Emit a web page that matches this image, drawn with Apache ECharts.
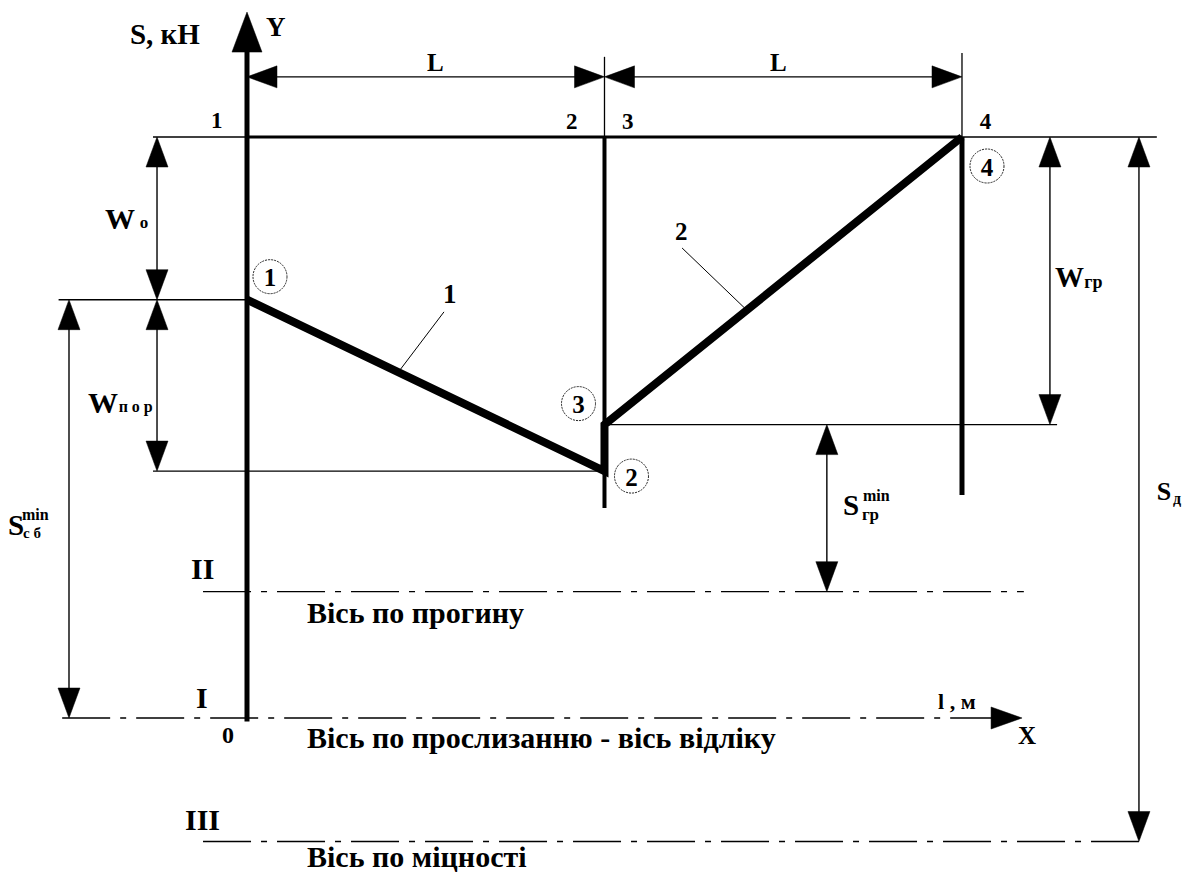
<!DOCTYPE html>
<html><head><meta charset="utf-8">
<script src="https://cdn.jsdelivr.net/npm/echarts@6/dist/echarts.min.js"></script>
<style>html,body{margin:0;padding:0;background:#fff}#c{width:1189px;height:875px}</style>
</head><body><div id="c"></div>
<script>
// ---------------- data ----------------
const pointNames = ['1', '2', '3', '4'];
const pointL = [0, 100, 100, 200];          // l, м   (L = 100)
const pointS = [14.4, 8.5, 10.1, 20];       // S, кН
const axisNames  = ['I', 'II', 'III'];
const axisLevels = [0, 4.35, -4.25];        // S levels of axes I, II, III
const axisTitles = ['Вісь по прослизанню - вісь відліку', 'Вісь по прогину', 'Вісь по міцності'];
const spanLabels = ['L', 'L'];

// ---------------- layout (data units) ----------------
const X_MIN = -69.09, X_MAX = 263.5, Y_MIN = -5.404, Y_MAX = 24.716;
const S_TOP = pointS[3];
const DIM_L_Y = 22.07;
const DIM_IN_X = -25.17, DIM_OUT_X = -49.79, DIM_WGR_X = 224.6, DIM_SD_X = 249.5, DIM_SGR_X = 162.2;
const FONT = '"Liberation Serif", "Times New Roman", serif';

// segments: [x1,y1,x2,y2, width, arrowStart, arrowEnd, dashed, arrowLen, arrowHalfW]
const segs = [
  // Y axis
  [0, axisLevels[0] - 0.12, 0, 24.30, 5, 0, 1, 0, 40, 15],
  // top line
  [pointL[0], S_TOP, pointL[3], S_TOP, 3, 0, 0, 0],
  [-26.3, S_TOP, pointL[0], S_TOP, 1.4, 0, 0, 0],
  [pointL[3], S_TOP, 254.5, S_TOP, 1.4, 0, 0, 0],
  // drum verticals
  [pointL[1], S_TOP, pointL[1], 7.23, 4, 0, 0, 0],
  [pointL[3], S_TOP, pointL[3], 7.68, 5, 0, 0, 0],
  // extension lines for L
  [pointL[1], S_TOP, pointL[1], 22.76, 1.3, 0, 0, 0],
  [pointL[3], S_TOP, pointL[3], 22.89, 1.3, 0, 0, 0],
  // reference horizontals
  [-52.7, pointS[0], pointL[0], pointS[0], 1.4, 0, 0, 0],
  [-26.3, pointS[1], pointL[1], pointS[1], 1.4, 0, 0, 0],
  [pointL[2], pointS[2], 226.6, pointS[2], 1.4, 0, 0, 0],
  // dimension lines
  [pointL[0], DIM_L_Y, pointL[1], DIM_L_Y, 1.4, 1, 1, 0],
  [pointL[1], DIM_L_Y, pointL[3], DIM_L_Y, 1.4, 1, 1, 0],
  [DIM_IN_X, S_TOP, DIM_IN_X, pointS[0], 1.4, 1, 1, 0],
  [DIM_IN_X, pointS[0], DIM_IN_X, pointS[1], 1.4, 1, 1, 0],
  [DIM_OUT_X, pointS[0], DIM_OUT_X, axisLevels[0], 1.4, 1, 1, 0],
  [DIM_WGR_X, S_TOP, DIM_WGR_X, pointS[2], 1.4, 1, 1, 0],
  [DIM_SD_X, S_TOP, DIM_SD_X, axisLevels[2], 1.4, 1, 1, 0],
  [DIM_SGR_X, pointS[2], DIM_SGR_X, axisLevels[1], 1.4, 1, 1, 0],
  // leaders
  [55.1, 13.98, 42.3, 11.9, 1, 0, 0, 0],
  [121.7, 16.18, 139.3, 14.1, 1, 0, 0, 0],
  // dash-dot axes
  [-51.7, axisLevels[0], 216.8, axisLevels[0], 1.4, 0, 1, 1, 31, 11],
  [-12.3, axisLevels[1], 217.3, axisLevels[1], 1.4, 0, 0, 1],
  [-12.3, axisLevels[2], DIM_SD_X, axisLevels[2], 1.4, 0, 0, 1]
];

// texts: [x, y, text, fontSize]  (y = visual middle)
const texts = [
  [-32.73, 23.55, 'S, кН', 29],
  [5.31, 23.77, 'Y', 27],
  [-10.07, 20.57, pointNames[0], 23],
  [89.23, 20.52, pointNames[1], 23],
  [104.9, 20.55, pointNames[2], 23],
  [205.0, 20.53, pointNames[3], 23],
  [50.35, 22.55, spanLabels[0], 25],
  [146.3, 22.55, spanLabels[1], 25],
  [-39.72, 17.21, 'W', 30], [-30.0, 17.04, 'о', 17],
  [-44.48, 10.86, 'W', 30], [-35.9, 10.71, 'п о р', 16],
  [-66.85, 6.64, 'S', 29], [-62.94, 6.99, 'min', 16], [-62.66, 6.37, 'с б', 15],
  [166.7, 7.33, 'S', 29], [172.3, 7.66, 'min', 16], [172.0, 6.99, 'гр', 17],
  [254.5, 7.80, 'S', 26], [259.0, 7.57, 'д', 16],
  [226.0, 15.18, 'W', 29], [234.2, 15.01, 'гр', 18],
  [-15.66, 5.16, axisNames[1], 30],
  [-14.27, 0.72, axisNames[0], 30],
  [-17.34, -3.51, axisNames[2], 30],
  [-6.99, -0.59, '0', 24],
  [16.78, -0.67, axisTitles[0], 30],
  [16.78, 3.63, axisTitles[1], 30],
  [16.78, -4.75, axisTitles[2], 30],
  [193.3, 0.57, 'l , м', 22],
  [215.7, -0.59, 'X', 25],
  [54.83, 14.58, '1', 27],
  [119.7, 16.75, '2', 25]
];

// circled point labels: pixel offsets from points
const circleOffsets = [[23, -23], [27, 5], [-26, -21], [25, 29]];

function renderSeg(params, api) {
  const s = segs[params.dataIndex];
  const a = api.coord([s[0], s[1]]), b = api.coord([s[2], s[3]]);
  const len = s[8] || 30, hw = s[9] || 11;
  const dx = b[0] - a[0], dy = b[1] - a[1];
  const L = Math.hypot(dx, dy) || 1;
  const ux = dx / L, uy = dy / L;
  const children = [];
  let a2 = a.slice(), b2 = b.slice();
  if (s[5]) a2 = [a[0] + ux * len * 0.7, a[1] + uy * len * 0.7];
  if (s[6]) b2 = [b[0] - ux * len * 0.7, b[1] - uy * len * 0.7];
  const style = { stroke: '#000', lineWidth: s[4], fill: null };
  if (s[7]) style.lineDash = [48, 10, 6, 10];
  children.push({ type: 'line', shape: { x1: a2[0], y1: a2[1], x2: b2[0], y2: b2[1] }, style: style });
  function head(tip, ux, uy) {
    const bx = tip[0] - ux * len, by = tip[1] - uy * len;
    return { type: 'polygon', shape: { points: [tip, [bx - uy * hw, by + ux * hw], [bx + uy * hw, by - ux * hw]] },
      style: { fill: '#000', stroke: '#000', lineWidth: 0.5 } };
  }
  if (s[5]) children.push(head(a, -ux, -uy));
  if (s[6]) children.push(head(b, ux, uy));
  return { type: 'group', children: children };
}

function renderText(params, api) {
  const t = texts[params.dataIndex];
  const p = api.coord([t[0], t[1]]);
  return { type: 'text', x: p[0], y: p[1], style: {
    text: t[2], fontSize: t[3], fontFamily: FONT, fontWeight: 'bold', fill: '#000',
    align: 'left', verticalAlign: 'middle' } };
}

function renderCircle(params, api) {
  const i = params.dataIndex;
  const p = api.coord([pointL[i], pointS[i]]);
  const c = [p[0] + circleOffsets[i][0], p[1] + circleOffsets[i][1]];
  return { type: 'group', children: [
    { type: 'circle', shape: { cx: c[0], cy: c[1], r: 17 }, style: { fill: '#fff', stroke: '#222', lineWidth: 1, lineDash: [2, 1] } },
    { type: 'text', x: c[0], y: c[1] + 1, style: { text: pointNames[i], fontSize: 25, fontFamily: FONT, fontWeight: 'bold', fill: '#000', align: 'center', verticalAlign: 'middle' } }
  ] };
}

const chart = echarts.init(document.getElementById('c'), null, { renderer: 'svg' });
chart.setOption({
  animation: false,
  backgroundColor: '#fff',
  grid: { left: 0, right: 0, top: 0, bottom: 0, containLabel: false },
  xAxis: { type: 'value', min: X_MIN, max: X_MAX, show: false },
  yAxis: { type: 'value', min: Y_MIN, max: Y_MAX, show: false },
  series: [
    { type: 'custom', name: 'lines', renderItem: renderSeg, data: segs.map((s, i) => [s[0], s[1]]), silent: true, clip: false, z: 2 },
    { type: 'line', name: 'S', data: pointL.map((l, i) => [l, pointS[i]]), showSymbol: false, symbol: 'none',
      lineStyle: { color: '#000', width: 8, join: 'miter', miterLimit: 3 }, silent: true, z: 3 },
    { type: 'custom', name: 'circles', renderItem: renderCircle, data: pointL.map((l, i) => [l, pointS[i]]), silent: true, clip: false, z: 4 },
    { type: 'custom', name: 'texts', renderItem: renderText, data: texts.map(t => [t[0], t[1]]), silent: true, clip: false, z: 5 }
  ]
});
</script></body></html>
